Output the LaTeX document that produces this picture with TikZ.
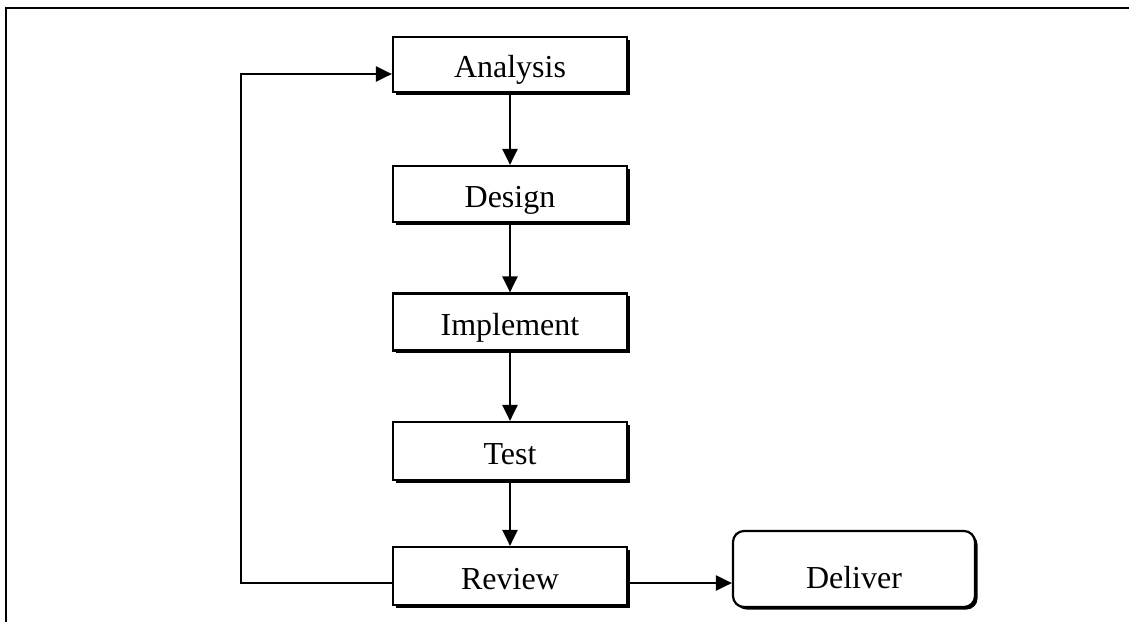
\documentclass[tikz,border=0pt]{standalone}
\usepackage{fontspec}
\setmainfont{Liberation Serif}
\usetikzlibrary{arrows.meta,shadows,calc}
\begin{document}
\begin{tikzpicture}[x=1pt,y=-1pt,
  stage/.style={draw=black,line width=2.2pt,fill=white,minimum width=234pt,
    inner sep=0pt,font=\fontsize{32}{36}\selectfont,
    text height=26pt,text depth=0pt,
    drop shadow={shadow xshift=2.5pt,shadow yshift=-2.5pt,fill=black,opacity=1}},
  finish/.style={stage,rounded corners=11pt,minimum width=242pt,minimum height=76pt,
    text height=39pt},
  flow/.style={line width=2.2pt,-{Triangle[length=16pt,width=15pt]}},
  frame/.style={line width=2.8pt}]
\useasboundingbox (0,0) rectangle (1129,622);

% page frame (top and left edges)
\draw[frame] (6,622) -- (6,8) -- (1129,8);

% process stages
\node[stage,minimum height=55pt] (ana) at (510,64.5) {Analysis};
\node[stage,minimum height=56pt] (des) at (510,194) {Design};
\node[stage,minimum height=57pt] (imp) at (510,322) {Implement};
\node[stage,minimum height=58pt] (tst) at (510,451) {Test};
\node[stage,minimum height=58pt] (rev) at (510,576) {Review};
\node[finish] (del) at (854,569) {Deliver};

% forward flow
\draw[flow] (ana) -- (des);
\draw[flow] (des) -- (imp);
\draw[flow] (imp) -- (tst);
\draw[flow] (tst) -- (rev);
\draw[flow] ($(rev.east)+(0,7)$) -- ($(del.west)+(0,14)$);

% feedback loop from review back to analysis
\coordinate (lb) at ($(rev.west)+(-151,7)$);
\coordinate (lt) at ($(ana.west)+(-151,9.5)$);
\draw[flow] ($(rev.west)+(0,7)$) -- (lb) -- (lt) -- ($(ana.west)+(0,9.5)$);
\end{tikzpicture}
\end{document}
